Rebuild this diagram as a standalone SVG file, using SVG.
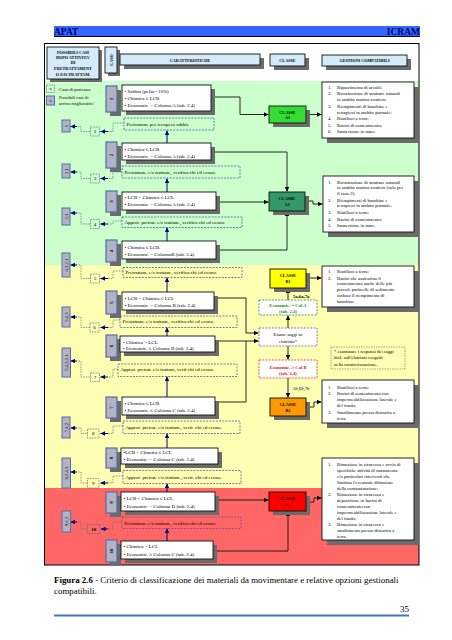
<svg xmlns="http://www.w3.org/2000/svg" width="452" height="640" viewBox="0 0 452 640">
<defs>
<marker id="ab" viewBox="0 0 6 6" refX="6" refY="3" markerUnits="userSpaceOnUse" markerWidth="5" markerHeight="4.5" orient="auto"><path d="M0,0L6,3L0,6z" fill="#00007a"/></marker>
<marker id="ak" viewBox="0 0 6 6" refX="6" refY="3" markerUnits="userSpaceOnUse" markerWidth="5" markerHeight="4.5" orient="auto"><path d="M0,0L6,3L0,6z" fill="#000"/></marker>
</defs>
<style>
text{font-family:"Liberation Serif","Times New Roman",serif;fill:#000}
.s5{font-size:5px}
.s47{font-size:4.7px}
.s4{font-size:4.2px}
.b{font-weight:bold}
.c{text-anchor:middle}
.sh{fill:#6b6b6b}
.hb{fill:#d4ebfa;stroke:#111;stroke-width:0.9}
.cs{fill:#b3b3c6;stroke:#4f6fa8;stroke-width:1.2}
.ch{fill:#fff;stroke:#111;stroke-width:0.9}
.pd{fill:none;stroke:#3d5f9e;stroke-width:0.8;stroke-dasharray:2 1.2}
.pp{fill:none;stroke:#7a4a9a;stroke-width:0.8;stroke-dasharray:2 1.2}
.sd{fill:none;stroke:#55698f;stroke-width:0.7;stroke-dasharray:1.6 1}
.ar{fill:#b3b3c6;stroke:#4f6fa8;stroke-width:1}
.dl{fill:none;stroke:#5b6f96;stroke-width:0.7;stroke-dasharray:1.6 1}
.bl{fill:none;stroke:#00007a;stroke-width:1;marker-end:url(#ab)}
.kl{fill:none;stroke:#111;stroke-width:0.9;marker-end:url(#ak)}
.kn{fill:none;stroke:#111;stroke-width:0.9}
</style>
<rect width="452" height="640" fill="#fff"/>
<!-- page header -->
<g id="pagehead">
<rect x="54" y="26" width="366" height="10" fill="#3366ff"/>
<line x1="54" y1="36.5" x2="420" y2="36.5" stroke="#000" stroke-width="1"/>
<text x="54" y="35" style="font-size:9.5px;font-weight:bold;fill:#000066">APAT</text>
<text x="420" y="35" style="font-size:9.5px;font-weight:bold;fill:#000066;text-anchor:end">ICRAM</text>
</g>
<!-- bands -->
<rect x="44" y="81" width="375" height="184" fill="#ccffcc"/>
<rect x="44" y="265" width="375" height="223" fill="#ffffb3"/>
<rect x="44" y="488" width="375" height="77" fill="#ff6666"/>
<rect x="44.5" y="43.5" width="374.5" height="521.5" fill="none" stroke="#000" stroke-width="1"/>
<!-- column headers -->
<g id="h-possibili">
<rect x="50" y="50" width="52" height="32" class="sh"/>
<rect x="47" y="47" width="52" height="32" class="hb"/>
<text class="s4 b c" x="73" y="53.5">POSSIBILI CASI</text>
<text class="s4 b c" x="73" y="58.5">DOPO ATTIVITA'</text>
<text class="s4 b c" x="73" y="63.5">DI</text>
<text class="s4 b c" x="73" y="69.5">PRETRATTAMENT</text>
<text class="s4 b c" x="73" y="75.5">O E/O TRATTAM.</text>
</g>
<g id="h-caso">
<rect x="108" y="50" width="12" height="26" class="sh"/>
<rect x="105" y="47" width="12" height="26" class="hb"/>
<text class="s4 b c" transform="translate(112.5,60) rotate(-90)">CASO</text>
</g>
<g id="h-caratteristiche">
<rect x="124" y="58" width="140" height="11" class="sh"/>
<rect x="120" y="54" width="140" height="11" class="hb"/>
<text class="s4 b c" x="190" y="61.5">CARATTERISTICHE</text>
</g>
<g id="h-classe">
<rect x="274" y="58" width="35" height="12" class="sh"/>
<rect x="270" y="54" width="35" height="12" class="hb"/>
<text class="s4 b c" x="287.5" y="61.5">CLASSE</text>
</g>
<g id="h-gestioni">
<rect x="326" y="59" width="85" height="11" class="sh"/>
<rect x="322" y="55" width="85" height="11" class="hb"/>
<text class="s4 b c" x="364.5" y="62">GESTIONI COMPATIBILI</text>
</g>
<!-- legend -->
<g id="legend">
<rect x="46.5" y="85" width="8" height="7.5" class="sd"/>
<text class="s4 c" x="50.5" y="90.3">n</text>
<text class="s47" x="59" y="91">Caso di partenza</text>
<rect x="46.5" y="96" width="8" height="9" class="ar"/>
<text class="s4 c" x="50.5" y="101.8">n</text>
<text class="s47" x="59" y="99">Possibili casi di</text>
<text class="s47" x="59" y="104.5">arrivo migliorativi</text>
</g>
<!-- connectors -->
<g id="connectors">
<path class="dl" d="M124,123H113V131.5H108"/><path class="bl" d="M108,131.5H100.5"/>
<path class="dl" d="M90,131.5H81V126.5H77"/><path class="bl" d="M77,126.5H70.5"/>
<path class="dl" d="M122,172H113V178.5H108"/><path class="bl" d="M108,178.5H100.5"/>
<path class="dl" d="M90,178.5H81V172H77"/><path class="bl" d="M77,172H70.5"/>
<path class="dl" d="M122,221H113V224H108"/><path class="bl" d="M108,224H100.5"/>
<path class="dl" d="M90,224H81V213H77"/><path class="bl" d="M77,213H70.5"/>
<path class="dl" d="M123,271H113V278.5H108"/><path class="bl" d="M108,278.5H100.5"/>
<path class="dl" d="M90,278.5H81V265H77"/><path class="bl" d="M77,265H70.5"/>
<path class="dl" d="M120,320H113V327.5H108"/><path class="bl" d="M108,327.5H100.5"/>
<path class="dl" d="M90,327.5H81V317H77"/><path class="bl" d="M77,317H70.5"/>
<path class="dl" d="M118,369H113V377H108"/><path class="bl" d="M108,377H100.5"/>
<path class="dl" d="M90,377H81V361H77"/><path class="bl" d="M77,361H70.5"/>
<path class="dl" d="M123,426H113V433.5H108"/><path class="bl" d="M108,433.5H100.5"/>
<path class="dl" d="M87,433.5H81V428H77"/><path class="bl" d="M77,428H70.5"/>
<path class="dl" d="M123,476H113V483H108"/><path class="bl" d="M108,483H100.5"/>
<path class="dl" d="M87,483H81V472H77"/><path class="bl" d="M77,472H70.5"/>
<path class="dl" d="M122,522H113V529H108"/><path class="bl" d="M108,529H101"/>
<path class="dl" d="M87,529H81V522H77"/><path class="bl" d="M77,522H70.5"/>
<path class="bl" d="M167,143V130.5"/>
<path class="bl" d="M167,192V178.5"/>
<path class="bl" d="M167,241V227.5"/>
<path class="bl" d="M167,292V277.5"/>
<path class="bl" d="M167,336V327.5"/>
<path class="bl" d="M167,397V376.5"/>
<path class="bl" d="M167,448V433.5"/>
<path class="bl" d="M167,492V483.5"/>
<path class="bl" d="M167,541V528.5"/>
<path class="kl" d="M211,97H240V114.5H268.5"/>
<path class="kl" d="M306,114.5H321.5"/>
<path class="kl" d="M211,152H287V191.5"/>
<path class="kl" d="M216,202H268.5"/>
<path class="kl" d="M216,250H287V211.5"/>
<path class="kl" d="M305,201H313V204H322.5"/>
<path class="kl" d="M214,298H246V333H258.5"/>
<path class="kl" d="M215,341H258.5"/>
<path class="kn" d="M215,402H246V341"/>
<path class="kl" d="M288,328V315.5"/>
<path class="kl" d="M288,300V288.5"/>
<path class="kl" d="M306,278H321.5"/>
<path class="kl" d="M288,346V359.5"/>
<path class="kl" d="M288,378V397.5"/>
<path class="kl" d="M306,407H314V402H321.5"/>
<path class="kl" d="M215,500H268.5"/>
<path class="kl" d="M306,502H314V498H321.5"/>
<path class="kl" d="M213,551H288V511.5"/>
</g>
<!-- case boxes -->
<g id="case1"><rect x="110" y="90" width="11" height="26" class="sh"/><rect x="106" y="86" width="11" height="26" class="cs"/><text class="s5 b c" transform="translate(113.3,99) rotate(-90)">1</text></g>
<g id="case2"><rect x="110" y="146" width="11" height="26" class="sh"/><rect x="106" y="142" width="11" height="26" class="cs"/><text class="s5 b c" transform="translate(113.3,155) rotate(-90)">2</text></g>
<g id="case3"><rect x="110" y="195" width="11" height="21" class="sh"/><rect x="106" y="191" width="11" height="21" class="cs"/><text class="s5 b c" transform="translate(113.3,201.5) rotate(-90)">3</text></g>
<g id="case4"><rect x="110" y="244" width="11" height="22" class="sh"/><rect x="106" y="240" width="11" height="22" class="cs"/><text class="s5 b c" transform="translate(113.3,251) rotate(-90)">4</text></g>
<g id="case5"><rect x="110" y="295" width="11" height="23" class="sh"/><rect x="106" y="291" width="11" height="23" class="cs"/><text class="s5 b c" transform="translate(113.3,302.5) rotate(-90)">5</text></g>
<g id="case6"><rect x="110" y="339" width="11" height="22" class="sh"/><rect x="106" y="335" width="11" height="22" class="cs"/><text class="s5 b c" transform="translate(113.3,346) rotate(-90)">6</text></g>
<g id="case7"><rect x="110" y="401" width="11" height="21" class="sh"/><rect x="106" y="397" width="11" height="21" class="cs"/><text class="s5 b c" transform="translate(113.3,407.5) rotate(-90)">7</text></g>
<g id="case8"><rect x="110" y="452" width="11" height="20" class="sh"/><rect x="106" y="448" width="11" height="20" class="cs"/><text class="s5 b c" transform="translate(113.3,458) rotate(-90)">8</text></g>
<g id="case9"><rect x="110" y="496" width="11" height="21" class="sh"/><rect x="106" y="492" width="11" height="21" class="cs"/><text class="s5 b c" transform="translate(113.3,502.5) rotate(-90)">9</text></g>
<g id="case10"><rect x="110" y="544" width="11" height="22" class="sh"/><rect x="106" y="540" width="11" height="22" class="cs"/><text class="s5 b c" transform="translate(113.3,551) rotate(-90)">10</text></g>
<!-- characteristics -->
<g id="char1"><rect x="126" y="89" width="89" height="26" class="sh"/><rect x="122" y="85" width="89" height="26" class="ch"/>
<text class="s5" x="124.5" y="92.7">• Sabbia (pelite&lt;10%)</text><text class="s5" x="124.5" y="99.7">• Chimica ≤ LCB</text><text class="s5" x="124.5" y="106.7">• Economic. = Colonna A (tab. 2.4)</text></g>
<g id="char2"><rect x="126" y="147" width="89" height="17" class="sh"/><rect x="122" y="143" width="89" height="17" class="ch"/>
<text class="s5" x="124.5" y="150.5">• Chimica ≤ LCB</text><text class="s5" x="124.5" y="157.5">• Economic. = Colonna A (tab. 2.4)</text></g>
<g id="char3"><rect x="126" y="196" width="94" height="18" class="sh"/><rect x="122" y="192" width="94" height="18" class="ch"/>
<text class="s5" x="124.5" y="198.7">• LCB &lt; Chimica ≤ LCL</text><text class="s5" x="124.5" y="205.7">• Economic. = Colonna A (tab. 2.4)</text></g>
<g id="char4"><rect x="126" y="245" width="94" height="18" class="sh"/><rect x="122" y="241" width="94" height="18" class="ch"/>
<text class="s5" x="124.5" y="248.7">• Chimica ≤ LCB</text><text class="s5" x="124.5" y="255.7">• Economic. = ColonnaB (tab. 2.4)</text></g>
<g id="char5"><rect x="126" y="296" width="92" height="18" class="sh"/><rect x="122" y="292" width="92" height="18" class="ch"/>
<text class="s5" x="124.5" y="299.7">• LCB &lt; Chimica ≤ LCL</text><text class="s5" x="124.5" y="306.7">• Economic. = Colonna B (tab. 2.4)</text></g>
<g id="char6"><rect x="124" y="340" width="95" height="16" class="sh"/><rect x="120" y="336" width="95" height="16" class="ch"/>
<text class="s5" x="123" y="343.5">• Chimica &gt; LCL</text><text class="s5" x="123" y="349.7">• Economic. ≤ Colonna B (tab. 2.4)</text></g>
<g id="char7"><rect x="126" y="401" width="93" height="18" class="sh"/><rect x="122" y="397" width="93" height="18" class="ch"/>
<text class="s5" x="124.5" y="404.7">• Chimica ≤ LCB</text><text class="s5" x="124.5" y="411.7">• Economic. ≤ Colonna C (tab. 2.4)</text></g>
<g id="char8"><rect x="125" y="452" width="97" height="16" class="sh"/><rect x="121" y="448" width="97" height="16" class="ch"/>
<text class="s5" x="123.5" y="453.7">•LCB &lt; Chimica ≤ LCL</text><text class="s5" x="123.5" y="460.7">• Economic. = Colonna C (tab. 2.4)</text></g>
<g id="char9"><rect x="125" y="496" width="94" height="19" class="sh"/><rect x="121" y="492" width="94" height="19" class="ch"/>
<text class="s5" x="123.5" y="499.7">• LCB &lt; Chimica ≤ LCL</text><text class="s5" x="123.5" y="507.7">• Economic. = Colonna D (tab. 2.4)</text></g>
<g id="char10"><rect x="125" y="545" width="92" height="18" class="sh"/><rect x="121" y="541" width="92" height="18" class="ch"/>
<text class="s5" x="123.5" y="547.7">• Chimica &gt; LCL</text><text class="s5" x="123.5" y="555.7">• Economic. ≥ Colonna C (tab. 2.4)</text></g>
<!-- pretreatment boxes -->
<g id="pre1"><rect x="124" y="118" width="90" height="12" class="pd"/><text class="s5" x="126.5" y="125.7">Pretrattam. per recupero sabbie</text></g>
<g id="pre2"><rect x="122" y="166" width="118" height="12" class="pd"/><text class="s5" x="124.5" y="173.7">Pretrattam. e/o trattam., verifica chi ed econo.</text></g>
<g id="pre3"><rect x="122" y="217" width="120" height="10.5" class="pd"/><text class="s5" x="124.5" y="223.7">Approf. pretrat. e/o trattam., verifica chi ed econo.</text></g>
<g id="pre4"><rect x="123" y="267.5" width="119" height="10" class="pd"/><text class="s5" x="125.5" y="273.7">Pretrattam. e/o trattam., verifica  chi ed econo.</text></g>
<g id="pre5"><rect x="120" y="316" width="117" height="11.5" class="pd"/><text class="s5" x="122.5" y="322.7">Pretrattam. e/o trattam., verifica chi ed econo.</text></g>
<g id="pre6"><rect x="118" y="364" width="119" height="12.5" class="pd"/><text class="s5" x="120.5" y="371.2">Approf. pretrat. e/o trattam, verif chi ed econo.</text></g>
<g id="pre7"><rect x="123" y="421" width="117" height="12.5" class="pd"/><text class="s5" x="125.5" y="428.7">Approf. pretrat. e/o trattam., verif. chi ed econo.</text></g>
<g id="pre8"><rect x="123" y="470.5" width="118" height="13" class="pp"/><text class="s5" x="125.5" y="479.2">Approf. pretrat. e/o trattam., verif. chi ed econo.</text></g>
<g id="pre9"><rect x="122" y="517" width="119" height="11.5" class="pp"/><text class="s5" x="124.5" y="524.5">Pretrattam. e/o trattam., verifica chi ed econo.</text></g>
<!-- starting-case small boxes -->
<g id="start2"><rect x="90.5" y="127" width="9" height="9" class="sd"/><text class="s5 c" x="95" y="133.3">2</text></g>
<g id="start3"><rect x="90.5" y="174" width="9" height="9" class="sd"/><text class="s5 c" x="95" y="180.3">3</text></g>
<g id="start4"><rect x="90.5" y="219.5" width="9" height="9" class="sd"/><text class="s5 c" x="95" y="225.8">4</text></g>
<g id="start5"><rect x="90.5" y="274" width="9" height="9" class="sd"/><text class="s5 c" x="95" y="280.3">5</text></g>
<g id="start6"><rect x="90" y="323" width="9" height="9" class="sd"/><text class="s5 c" x="94.5" y="329.3">6</text></g>
<g id="start7"><rect x="90.5" y="373" width="9" height="8.5" class="sd"/><text class="s5 c" x="95" y="379">7</text></g>
<g id="start8"><rect x="87.5" y="429" width="11.5" height="9" class="sd"/><text class="s5 c" x="93.2" y="435.3">8</text></g>
<g id="start9"><rect x="87.5" y="478.5" width="11.5" height="9.5" class="sd"/><text class="s5 c" x="93.2" y="485">9</text></g>
<g id="start10"><rect x="87.5" y="524.5" width="12.5" height="9" class="sd"/><text class="s5 c b" x="93.7" y="530.8">10</text></g>
<!-- arrival boxes -->
<g id="arr1"><rect x="62" y="120" width="8" height="12" class="ar"/><text class="s47 c" transform="translate(67.6,126) rotate(-90)">1</text></g>
<g id="arr2"><rect x="62" y="164" width="8" height="14" class="ar"/><text class="s47 c" transform="translate(67.6,171) rotate(-90)">2,1</text></g>
<g id="arr3"><rect x="62" y="208" width="8" height="17" class="ar"/><text class="s47 c" transform="translate(67.6,216.5) rotate(-90)">2,1</text></g>
<g id="arr4"><rect x="62" y="253" width="8" height="24" class="ar"/><text class="s47 c" transform="translate(67.6,265) rotate(-90)">4,3,2,1</text></g>
<g id="arr5"><rect x="62" y="307" width="8" height="20" class="ar"/><text class="s47 c" transform="translate(67.6,317) rotate(-90)">5,4,3</text></g>
<g id="arr6"><rect x="62" y="348" width="8.5" height="29" class="ar"/><text class="s47 c" transform="translate(67.8,362.5) rotate(-90)">5,4,3,2,1</text></g>
<g id="arr7"><rect x="62" y="417" width="8" height="21" class="ar"/><text class="s47 c" transform="translate(67.6,427.5) rotate(-90)">7,4,2</text></g>
<g id="arr8"><rect x="62" y="458" width="8.5" height="30" class="ar"/><text class="s47 c" transform="translate(67.8,473) rotate(-90)">8,5,4,3</text></g>
<g id="arr9"><rect x="62" y="511" width="8.5" height="21" class="ar"/><text class="s47 c" transform="translate(67.8,521.5) rotate(-90)">9,6,3</text></g>
<!-- classes -->
<g id="classA1"><rect x="273" y="110" width="37" height="17" class="sh"/><rect x="269" y="106" width="37" height="17" fill="#33dd33" stroke="#111" stroke-width="0.9"/><text class="s4 b c" x="287.5" y="113.5">CLASSE</text><text class="s4 b c" x="287.5" y="119">A1</text></g>
<g id="classA2"><rect x="273" y="196" width="36" height="19" class="sh"/><rect x="269" y="192" width="36" height="19" fill="#339966" stroke="#111" stroke-width="0.9"/><text class="s4 b c" x="287" y="200">CLASSE</text><text class="s4 b c" x="287" y="206">A2</text></g>
<g id="classB1"><rect x="274" y="273" width="36" height="19" class="sh"/><rect x="270" y="269" width="36" height="19" fill="#ffff00" stroke="#111" stroke-width="0.9"/><text class="s4 b c" x="288" y="277">CLASSE</text><text class="s4 b c" x="288" y="283">B1</text></g>
<g id="classB2"><rect x="274" y="402" width="36" height="18" class="sh"/><rect x="270" y="398" width="36" height="18" fill="#ff9900" stroke="#111" stroke-width="0.9"/><text class="s4 b c" x="288" y="406">CLASSE</text><text class="s4 b c" x="288" y="412">B2</text></g>
<g id="classC"><rect x="273" y="496" width="37" height="19" class="sh"/><rect x="269" y="492" width="37" height="19" fill="#ff0000" stroke="#111" stroke-width="0.9"/><text class="s4 b c" x="287.5" y="500">CLASSE</text><text class="s4 b c" x="287.5" y="506">C</text></g>
<!-- B decision -->
<g id="econA"><rect x="259" y="300" width="58" height="15" fill="#fff" stroke="#2e8b3e" stroke-width="0.8" stroke-dasharray="2 1.2"/><text class="s47 b c" x="288" y="306.5" style="fill:#2a8a2a">Economic. = Col A</text><text class="s47 b c" x="288" y="313" style="fill:#2a8a2a">(tab. 2.4)</text></g>
<g id="esame"><rect x="259" y="328" width="58" height="18" fill="#fff" stroke="#6a5aa8" stroke-width="0.8" stroke-dasharray="2 1.2"/><text class="s47 c" x="288" y="336">Esame saggi su</text><text class="s47 c" x="288" y="342.5">elutriato*</text></g>
<g id="econB"><rect x="259" y="360" width="58" height="18" fill="#fff" stroke="#e03030" stroke-width="0.8" stroke-dasharray="2 1.2"/><text class="s47 b c" x="288" y="368.5" style="fill:#d01818">Economic. ≥ Col B</text><text class="s47 b c" x="288" y="374.5" style="fill:#d01818">(tab. 2.4)</text></g>
<text class="s47 b" x="293" y="297.5">5a,6a,7a</text>
<text class="s47" x="293" y="389.5" style="font-style:italic">5b,6b,7b</text>
<g id="note"><rect x="331" y="347" width="74" height="22" fill="none" stroke="#8a7a5a" stroke-width="0.7" stroke-dasharray="1.5 1"/>
<text class="s47" x="334" y="352.5">* esaminare i responsi dei saggi</text><text class="s47" x="334" y="359">biol.   sull'elutriato eseguiti</text><text class="s47" x="334" y="365.5">nella caratterizzazione.</text></g>
<!-- gestioni -->
<g id="gest1"><rect x="327" y="87" width="92" height="56" class="sh"/><rect x="322" y="82" width="92" height="56" class="ch"/>
<text class="s47" x="328" y="88.5">1.</text><text class="s47" x="337" y="88.5">Ripascimento di arenili;</text>
<text class="s47" x="328" y="95.2">2.</text><text class="s47" x="337" y="95.2">Ricostruzione di strutture naturali</text>
<text class="s47" x="337" y="101.2">in ambito marino costiero;</text>
<text class="s47" x="328" y="107.7">3.</text><text class="s47" x="337" y="107.7">Riempimenti di banchine e</text>
<text class="s47" x="337" y="113.7">terrapieni in ambito portuale;</text>
<text class="s47" x="328" y="120">4.</text><text class="s47" x="337" y="120">Riutilizzi a terra;</text>
<text class="s47" x="328" y="126.5">5.</text><text class="s47" x="337" y="126.5">Bacini di contenimento;</text>
<text class="s47" x="328" y="133.2">6.</text><text class="s47" x="337" y="133.2">Immersione in mare.</text></g>
<g id="gest2"><rect x="328" y="181" width="91" height="56" class="sh"/><rect x="323" y="176" width="91" height="56" class="ch"/>
<text class="s47" x="328" y="183.5">1.</text><text class="s47" x="337" y="183.5">Ricostruzione di strutture naturali</text>
<text class="s47" x="337" y="189.2">in ambito marino costiero (solo per</text>
<text class="s47" x="337" y="195">il caso 2);</text>
<text class="s47" x="328" y="201.5">2.</text><text class="s47" x="337" y="201.5">Riempimenti di banchine e</text>
<text class="s47" x="337" y="207.2">terrapieni in ambito portuale;</text>
<text class="s47" x="328" y="214.2">3.</text><text class="s47" x="337" y="214.2">Riutilizzi a terra;</text>
<text class="s47" x="328" y="220.6">4.</text><text class="s47" x="337" y="220.6">Bacini di contenimento;</text>
<text class="s47" x="328" y="227.2">5.</text><text class="s47" x="337" y="227.2">Immersione in mare.</text></g>
<g id="gest3"><rect x="327" y="271" width="92" height="41" class="sh"/><rect x="322" y="266" width="92" height="41" class="ch"/>
<text class="s47" x="328" y="272.7">1.</text><text class="s47" x="337" y="272.7">Riutilizzi a terra;</text>
<text class="s47" x="328" y="279.5">2.</text><text class="s47" x="337" y="279.5">Bacini che assicurino il</text>
<text class="s47" x="337" y="285.3">contenimento anche delle più</text>
<text class="s47" x="337" y="291">piccole particelle di sedimento</text>
<text class="s47" x="337" y="296.8">incluso il riempimento di</text>
<text class="s47" x="337" y="302.7">banchine.</text></g>
<g id="gest4"><rect x="327" y="385" width="92" height="43" class="sh"/><rect x="322" y="380" width="92" height="43" class="ch"/>
<text class="s47" x="328" y="388.7">1.</text><text class="s47" x="337" y="388.7">Riutilizzi a terra;</text>
<text class="s47" x="328" y="394.8">2.</text><text class="s47" x="337" y="394.8">Bacini di contenimento con</text>
<text class="s47" x="337" y="400.6">impermeabilizzazione laterale e</text>
<text class="s47" x="337" y="406.5">del fondo;</text>
<text class="s47" x="328" y="413.5">3.</text><text class="s47" x="337" y="413.5">Smaltimento presso discarica a</text>
<text class="s47" x="337" y="419.5">terra.</text></g>
<g id="gest5"><rect x="327" y="463" width="92" height="82" class="sh"/><rect x="322" y="458" width="92" height="82" class="ch"/>
<text class="s47" x="328" y="465.5">1.</text><text class="s47" x="337" y="465.5">Rimozione in sicurezza e avvio di</text>
<text class="s47" x="337" y="471.5">specifiche attività di trattamento</text>
<text class="s47" x="337" y="477.5">e/o particolari interventi che</text>
<text class="s47" x="337" y="483.5">limitino l'eventuale diffusione</text>
<text class="s47" x="337" y="489.5">della contaminazione;</text>
<text class="s47" x="328" y="495.5">2.</text><text class="s47" x="337" y="495.5">Rimozione in sicurezza e</text>
<text class="s47" x="337" y="501.5">deposizione in bacini di</text>
<text class="s47" x="337" y="507.5">contenimento con</text>
<text class="s47" x="337" y="513.5">impermeabilizzazione laterale e</text>
<text class="s47" x="337" y="519.5">del fondo;</text>
<text class="s47" x="328" y="525.5">3.</text><text class="s47" x="337" y="525.5">Rimozione in sicurezza e</text>
<text class="s47" x="337" y="531.5">smaltimento presso discarica a</text>
<text class="s47" x="337" y="537.5">terra.</text></g>
<!-- caption -->
<g id="caption">
<text x="54" y="583" style="font-size:8.9px"><tspan font-weight="bold">Figura 2.6</tspan> - Criterio di classificazione dei materiali da movimentare e relative opzioni gestionali</text>
<text x="54" y="594" style="font-size:8.9px">compatibili.</text>
<text x="409" y="612" style="font-size:9px;text-anchor:end">35</text>
<line x1="54" y1="615.5" x2="409" y2="615.5" stroke="#4472c4" stroke-width="2"/>
</g>
</svg>
